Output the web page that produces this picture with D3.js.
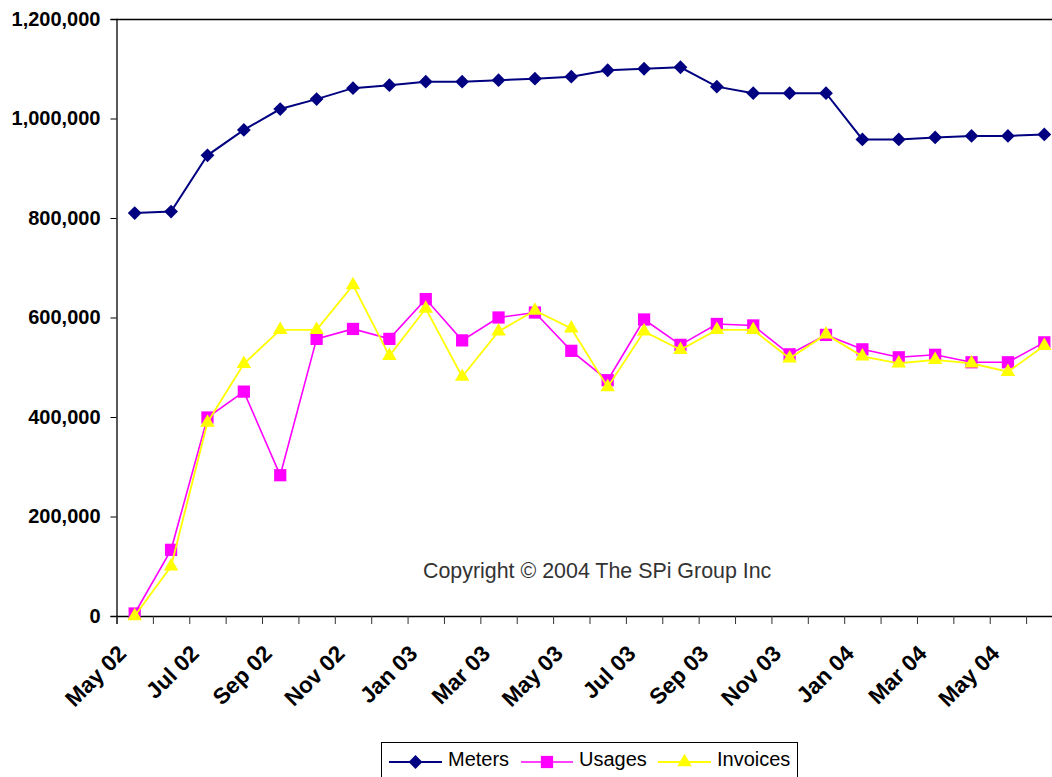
<!DOCTYPE html>
<html>
<head>
<meta charset="utf-8">
<script src="https://cdn.jsdelivr.net/npm/d3@7"></script>
<style>
  html, body { margin: 0; padding: 0; background: #fff; }
  svg { display: block; }
  text { font-family: Arial, "Liberation Sans", sans-serif; }
</style>
</head>
<body>
<svg id="chart" width="1052" height="777"></svg>
<script>
const months = ["May 02","Jun 02","Jul 02","Aug 02","Sep 02","Oct 02","Nov 02","Dec 02",
  "Jan 03","Feb 03","Mar 03","Apr 03","May 03","Jun 03","Jul 03","Aug 03","Sep 03","Oct 03",
  "Nov 03","Dec 03","Jan 04","Feb 04","Mar 04","Apr 04","May 04","Jun 04"];
const meters = [810000, 813000, 926000, 977000, 1019000, 1039000, 1061000, 1067000, 1074000,
  1074000, 1077000, 1080000, 1084000, 1097000, 1100000, 1103000, 1064000, 1051000, 1051000,
  1051000, 958000, 958000, 962000, 965000, 965000, 968000];
const usages = [5000, 133000, 399000, 451000, 283000, 557000, 577000, 557000, 637000, 554000,
  600000, 610000, 533000, 474000, 596000, 545000, 587000, 584000, 526000, 565000, 536000,
  520000, 525000, 510000, 510000, 550000];
const invoices = [0, 100000, 389000, 507000, 575000, 575000, 665000, 523000, 618000, 481000,
  572000, 614000, 578000, 460000, 572000, 535000, 575000, 575000, 518000, 566000, 522000,
  508000, 515000, 508000, 491000, 543000];
const xLabels = ["May 02","Jul 02","Sep 02","Nov 02","Jan 03","Mar 03","May 03","Jul 03",
  "Sep 03","Nov 03","Jan 04","Mar 04","May 04"];
const yTicks = [0, 200000, 400000, 600000, 800000, 1000000, 1200000];
const copyright = "Copyright \u00A9 2004 The SPi Group Inc";

const series = [
  {name: "Meters", values: meters, color: "#000080", width: 2, symbol: "diamond"},
  {name: "Usages", values: usages, color: "#FF00FF", width: 1.6, symbol: "square"},
  {name: "Invoices", values: invoices, color: "#FFFF00", width: 1.8, symbol: "triangle"}
];

const svg = d3.select("#chart");
const pLeft = 116.5, pRight = 1062.5, pTop = 19, pBottom = 616;

const x = d3.scaleBand().domain(months).range([pLeft, pRight]).paddingInner(0).paddingOuter(0);
const cx = m => x(m) + x.bandwidth() / 2;
const xTickScale = d3.scaleLinear().domain([0, months.length]).range([pLeft, pRight]);
const y = d3.scaleLinear().domain([0, 1200000]).range([pBottom, pTop]);

// plot top border
svg.append("line").attr("x1", pLeft).attr("x2", pRight).attr("y1", pTop + 0.5).attr("y2", pTop + 0.5)
  .attr("stroke", "#000").attr("stroke-width", 1.3);

// y axis
const yAxis = svg.append("g").attr("transform", `translate(${pLeft},0)`)
  .call(d3.axisLeft(y).tickValues(yTicks).tickFormat(d3.format(",")).tickSize(6).tickPadding(10));
yAxis.select(".domain").attr("stroke", "#000").attr("stroke-width", 1.3);
yAxis.selectAll(".tick line").attr("stroke", "#000");
yAxis.selectAll(".tick text").attr("font-size", "20px").attr("font-weight", "bold")
  .attr("fill", "#000").attr("font-family", "Arial, 'Liberation Sans', sans-serif");

// x axis (ticks between categories)
const xAxis = svg.append("g").attr("transform", `translate(0,${pBottom})`)
  .call(d3.axisBottom(xTickScale).tickValues(d3.range(0, months.length + 1)).tickFormat("").tickSize(8));
xAxis.select(".domain").attr("stroke", "#000").attr("stroke-width", 1.3);
xAxis.selectAll(".tick line").attr("stroke", "#333");

// x labels
svg.append("g").selectAll("text").data(xLabels).join("text")
  .attr("transform", d => `translate(${cx(d) - 7},655) rotate(-45)`)
  .attr("text-anchor", "end")
  .attr("font-size", "22.5px").attr("font-weight", "bold").attr("fill", "#000")
  .text(d => d);

// copyright
svg.append("text").attr("x", 423).attr("y", 578).attr("font-size", "21.4px")
  .attr("fill", "#333").text(copyright);

const symbolGen = {
  diamond: d3.symbol().type(d3.symbolSquare).size(95),
  square: d3.symbol().type(d3.symbolSquare).size(150),
  triangle: d3.symbol().type(d3.symbolTriangle).size(90)
};
const rot = s => s === "diamond" ? " rotate(45)" : "";

const line = d3.line().x((d, i) => cx(months[i])).y(d => y(d));

const order = [series[1], series[2], series[0]];
order.forEach(s => {
  const g = svg.append("g");
  g.append("path").datum(s.values).attr("d", line).attr("fill", "none")
    .attr("stroke", s.color).attr("stroke-width", s.width);
  g.selectAll("path.m").data(s.values).join("path").attr("class", "m")
    .attr("transform", (d, i) => `translate(${cx(months[i])},${y(d)})${rot(s.symbol)}`)
    .attr("d", symbolGen[s.symbol]()).attr("fill", s.color);
});

// legend
const lg = svg.append("g");
lg.append("rect").attr("x", 381.5).attr("y", 742.5).attr("width", 416).attr("height", 40)
  .attr("fill", "#fff").attr("stroke", "#000").attr("stroke-width", 1);
const legendPos = [
  {x1: 389, x2: 442, tx: 448},
  {x1: 521, x2: 573, tx: 579},
  {x1: 658, x2: 711, tx: 717}
];
series.forEach((s, i) => {
  const p = legendPos[i];
  lg.append("line").attr("x1", p.x1).attr("x2", p.x2).attr("y1", 762).attr("y2", 762)
    .attr("stroke", s.color).attr("stroke-width", s.width);
  lg.append("path").attr("transform", `translate(${(p.x1 + p.x2) / 2},762)${rot(s.symbol)}`)
    .attr("d", symbolGen[s.symbol]()).attr("fill", s.color);
  lg.append("text").attr("x", p.tx).attr("y", 766).attr("font-size", "20px").attr("fill", "#000")
    .text(s.name);
});
</script>
</body>
</html>
